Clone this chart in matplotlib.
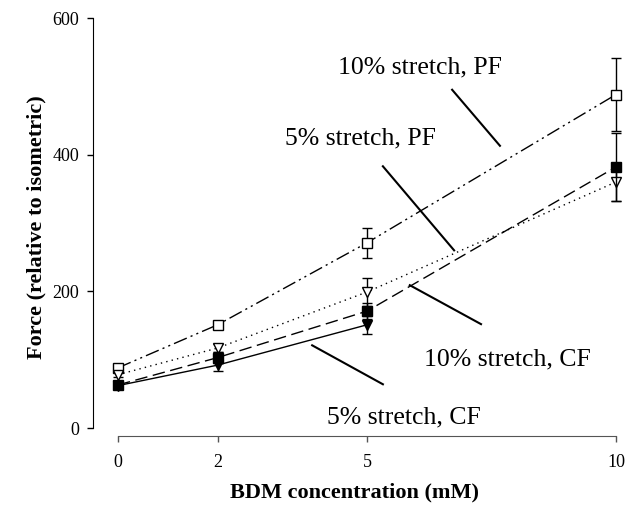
import matplotlib
matplotlib.use("Agg")
import matplotlib.pyplot as plt

plt.rcParams["font.family"] = ["Liberation Serif", "DejaVu Serif"]

# BDM concentration (mM)
bdm = [0, 2, 5, 10]
bdm_cf5 = [0, 2, 5]

# force relative to isometric, mean and error
pf10 = [88, 151, 271, 488]
pf10_err = [5, 6, 22, 54]
pf5 = [78, 117, 199, 360]
pf5_err = [4, 6, 21, 28]
cf10 = [63, 103, 171, 382]
cf10_err = [5, 8, 12, 50]
cf5 = [62, 92, 151]
cf5_err = [5, 9, 13]

fig = plt.figure(figsize=(6.31, 5.08), dpi=100)
ax = fig.add_axes([93 / 631, 72 / 508, 523 / 631, 418 / 508])

common = dict(color="black", lw=1.0, ms=6.5, capsize=3.5, elinewidth=1.0,
              capthick=1.0, clip_on=False)
ax.errorbar(bdm, pf10, yerr=pf10_err, marker="s", mfc="white", mec="black",
            ls=(0, (10, 3, 1.5, 3, 1.5, 3)), zorder=3, **common)
ax.errorbar(bdm, pf5, yerr=pf5_err, marker="v", mfc="white", mec="black",
            ls=(0, (1, 3)), zorder=3, **common)
ax.errorbar(bdm, cf10, yerr=cf10_err, marker="s", mfc="black", mec="black",
            ls=(0, (9, 4)), zorder=4, **common)
ax.errorbar(bdm_cf5, cf5, yerr=cf5_err, marker="v", mfc="black", mec="black",
            ls="-", zorder=4, **common)

# labels with leader lines
tkw = dict(fontsize=18.5, ha="center", va="center")
ax.text(6.06, 527, "10% stretch, PF", **tkw)
ax.plot([6.71, 7.67], [495, 413], color="black", lw=1.5)
ax.text(4.86, 424, "5% stretch, PF", **tkw)
ax.plot([5.32, 6.75], [383, 260], color="black", lw=1.5)
ax.text(7.81, 101, "10% stretch, CF", **tkw)
ax.plot([5.86, 7.29], [209, 152], color="black", lw=1.5)
ax.text(5.74, 15, "5% stretch, CF", **tkw)
ax.plot([3.90, 5.32], [121, 64], color="black", lw=1.5)

ax.set_xlim(-0.5, 10)
ax.set_ylim(-11.7, 600)
ax.set_xticks(bdm)
ax.set_yticks([0, 200, 400, 600])
ax.spines["top"].set_visible(False)
ax.spines["right"].set_visible(False)
ax.spines["left"].set_bounds(0, 600)
ax.spines["bottom"].set_bounds(0, 10)
ax.spines["bottom"].set_color("#555555")
ax.tick_params(axis="y", direction="out", length=4, width=1, pad=6, labelsize=13)
ax.tick_params(axis="x", direction="out", length=4, width=1, pad=9, labelsize=13,
               color="#555555")

ax.set_xlabel("BDM concentration (mM)", fontsize=16, fontweight="bold", labelpad=8)
ax.set_ylabel("Force (relative to isometric)", fontsize=16, fontweight="bold", labelpad=4)

fig.savefig("out.png", dpi=100)
